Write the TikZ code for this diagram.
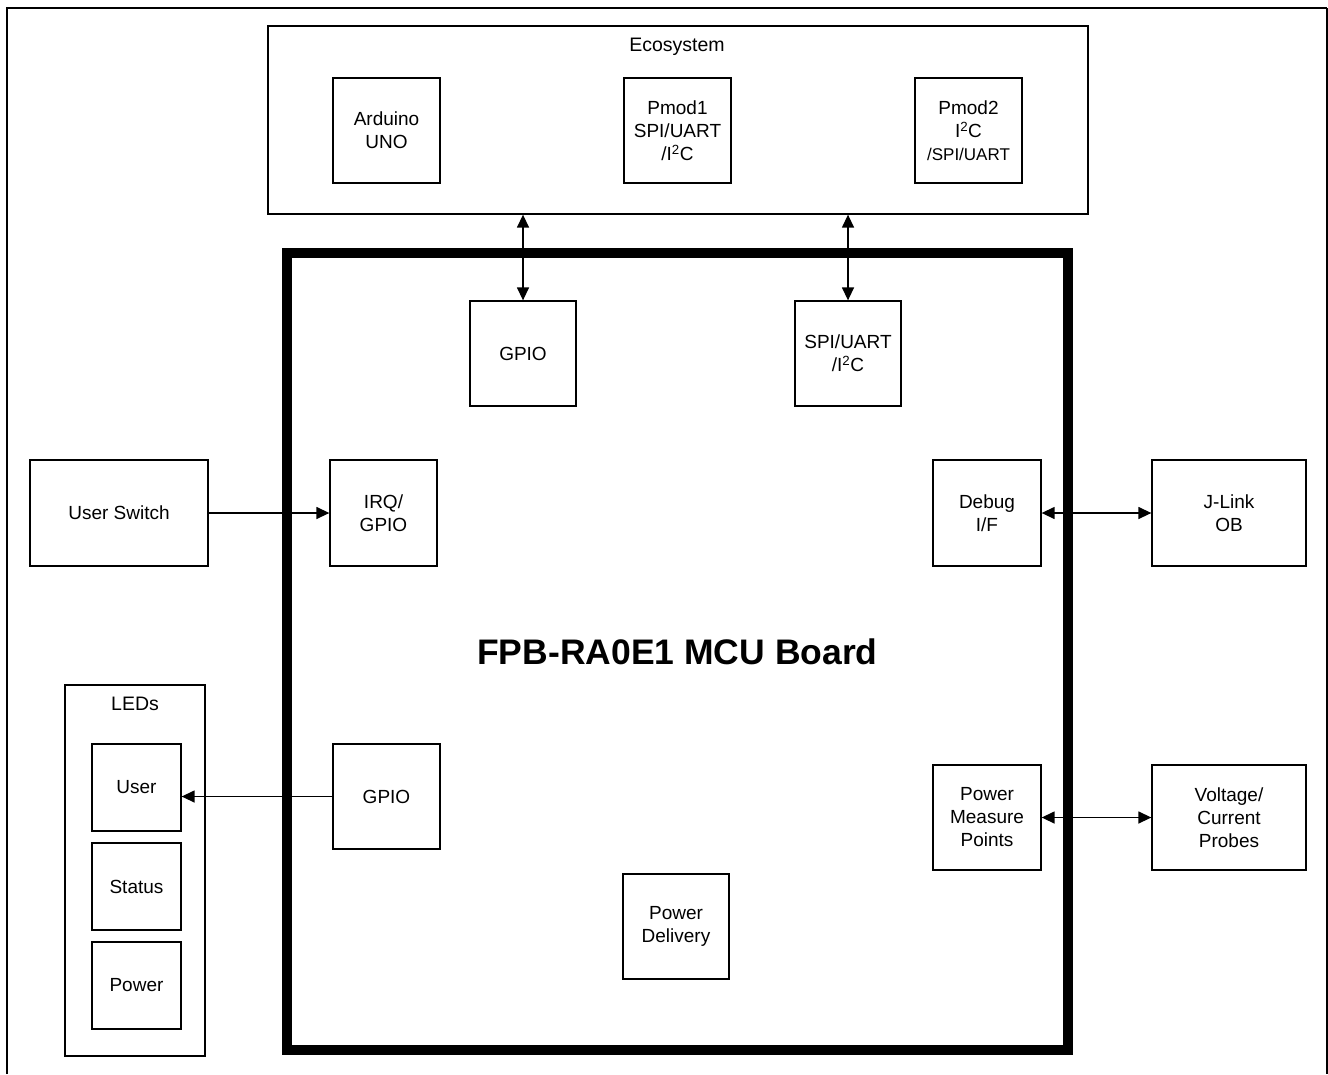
\documentclass[tikz,border=0pt]{standalone}
\usepackage{fontspec}
\setmainfont{Liberation Sans}
\usetikzlibrary{arrows.meta}
\tikzset{
  blk/.style={draw=black, line width=1.3pt, inner sep=0pt, align=center,
    font=\fontsize{19}{23}\selectfont},
  tip/.style={line width=1.4pt, {Triangle[length=13pt,width=12pt]}-{Triangle[length=13pt,width=12pt]}},
  tipr/.style={line width=1.4pt, -{Triangle[length=13pt,width=12pt]}},
  lbl/.style={inner sep=0pt, font=\fontsize{19.5}{23}\selectfont}
}
\begin{document}
\begin{tikzpicture}[x=1pt,y=-1pt]
\useasboundingbox (0,0) rectangle (1328,1074);
% outer frame
\draw[line width=2.5pt] (7,1074) -- (7,8) -- (1327,8);
\draw[line width=1.5pt] (1327,8) -- (1327,1074);
% ecosystem
\node[blk, minimum width=820pt, minimum height=188pt] (eco) at (678,120) {};
\node[lbl] (ecolbl) at (677,47) {Ecosystem};
\node[blk, minimum width=107pt, minimum height=105pt] (ard) at (386.5,130.5) {Arduino\\UNO};
\node[blk, minimum width=107pt, minimum height=105pt] (pm1) at (677.5,130.5) {Pmod1\\SPI/UART\\/I\textsuperscript{2}C};
\node[blk, minimum width=107pt, minimum height=105pt] (pm2) at (968.5,130.5) {Pmod2\\I\textsuperscript{2}C\\{\fontsize{17}{24}\selectfont /SPI/UART}};
% MCU board
\node[draw=black, line width=10pt, inner sep=0pt, minimum width=781pt, minimum height=797pt,
  font=\fontsize{35.5}{40}\selectfont\bfseries] (mcu) at (677.5,651.5) {FPB-RA0E1 MCU Board};
\node[blk, minimum width=106pt, minimum height=105pt] (gpio1) at (523,353.5) {GPIO};
\node[blk, minimum width=106pt, minimum height=105pt] (spi) at (848,353.5) {SPI/UART\\/I\textsuperscript{2}C};
\node[blk, minimum width=107pt, minimum height=106pt] (irq) at (383.5,513) {IRQ/\\GPIO};
\node[blk, minimum width=108pt, minimum height=106pt] (dbg) at (987,513) {Debug\\I/F};
\node[blk, minimum width=107pt, minimum height=105pt] (gpio2) at (386.5,796.5) {GPIO};
\node[blk, minimum width=108pt, minimum height=105pt] (pmp) at (987,817.5) {Power\\Measure\\Points};
\node[blk, minimum width=106pt, minimum height=105pt] (pdl) at (676,926.5) {Power\\Delivery};
% outside
\node[blk, minimum width=178pt, minimum height=106pt] (usw) at (119,513) {User Switch};
\node[blk, minimum width=154pt, minimum height=106pt] (jlk) at (1229,513) {J-Link\\OB};
\node[blk, minimum width=154pt, minimum height=105pt] (vcp) at (1229,817.5) {Voltage/\\Current\\Probes};
\node[blk, minimum width=140pt, minimum height=371pt] (leds) at (135,870.5) {};
\node[lbl] (ledslbl) at (135,704) {LEDs};
\node[blk, minimum width=89pt, minimum height=87pt] (user) at (136.5,787.5) {User};
\node[blk, minimum width=89pt, minimum height=87pt] (status) at (136.5,886.5) {Status};
\node[blk, minimum width=89pt, minimum height=87pt] (power) at (136.5,985.5) {Power};
% connectors
\draw[tip] (gpio1.north) -- (gpio1.north |- eco.south);
\draw[tip] (spi.north) -- (spi.north |- eco.south);
\draw[tipr] (usw.east) -- (irq.west);
\draw[tip] (dbg.east) -- (jlk.west);
\draw[tip] (pmp.east) -- (pmp.east -| vcp.west);
\draw[tipr] (gpio2.west) -- (gpio2.west -| user.east);
\end{tikzpicture}
\end{document}
